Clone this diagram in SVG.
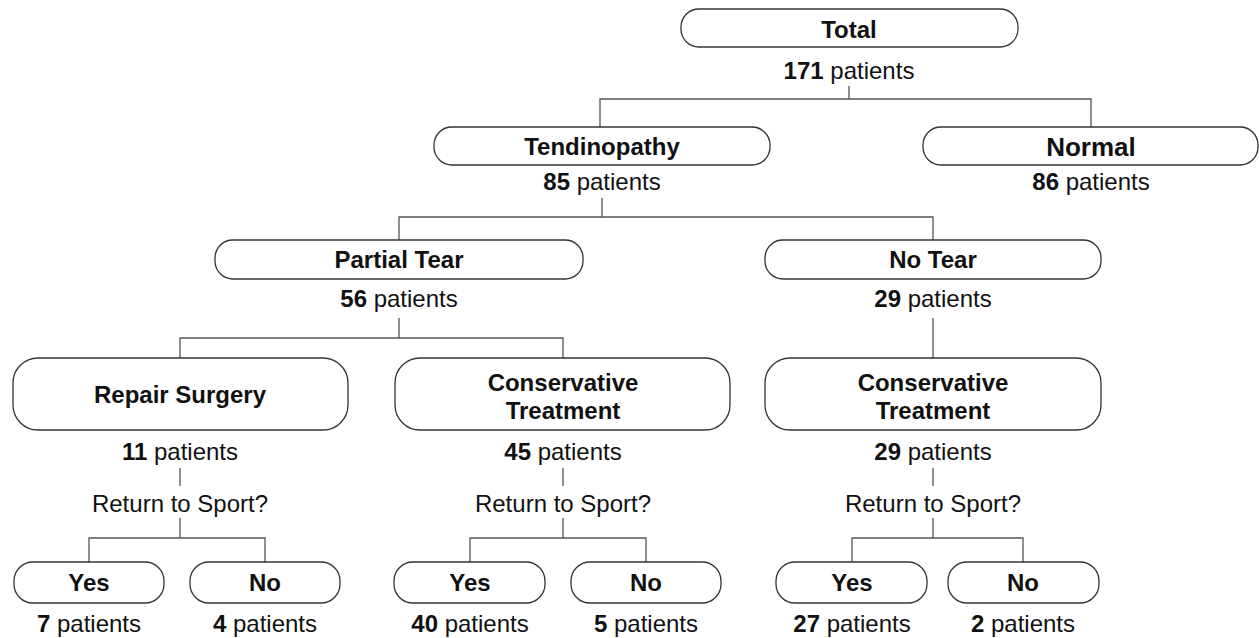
<svg xmlns="http://www.w3.org/2000/svg" width="1259" height="638" viewBox="0 0 1259 638">
  <style>
    .box { fill: #ffffff; stroke: #333333; stroke-width: 1.3; }
    .link { fill: none; stroke: #555555; stroke-width: 1.3; }
    text { font-family: "Liberation Sans", Arial, Helvetica, sans-serif; fill: #111111; text-anchor: middle; }
    .lbl { font-size: 24px; font-weight: bold; }
    .cnt { font-size: 24px; }
    .cnt tspan.n { font-weight: bold; }
    .big { font-size: 26px; font-weight: bold; }
  </style>
  <rect width="1259" height="638" fill="#ffffff"/>

  <!-- tree connectors -->
  <g id="connectors">
    <path class="link" d="M849 86 V99 M600 127 V99 H1091 V127"/>
    <path class="link" d="M602 198 V217 M399 240 V217 H933 V240"/>
    <path class="link" d="M399 318 V338 M180 358 V338 H563 V358"/>
    <path class="link" d="M933 318 V358"/>
    <path class="link" d="M180 468 V486 M180 518 V538 M89 562 V538 H265 V562"/>
    <path class="link" d="M563 468 V486 M563 518 V538 M470 562 V538 H646 V562"/>
    <path class="link" d="M933 468 V486 M933 518 V538 M852 562 V538 H1023 V562"/>
  </g>

  <g id="total">
    <rect class="box" x="681" y="9" width="337" height="38" rx="18"/>
    <text class="lbl" x="849" y="38">Total</text>
    <text class="cnt" x="849" y="79"><tspan class="n">171</tspan> patients</text>
  </g>

  <g id="tendinopathy">
    <rect class="box" x="434" y="127" width="336" height="38" rx="18"/>
    <text class="lbl" x="602" y="155">Tendinopathy</text>
    <text class="cnt" x="602" y="190"><tspan class="n">85</tspan> patients</text>
  </g>

  <g id="normal">
    <rect class="box" x="923" y="127" width="335" height="38" rx="18"/>
    <text class="big" x="1091" y="156">Normal</text>
    <text class="cnt" x="1091" y="190"><tspan class="n">86</tspan> patients</text>
  </g>

  <g id="partial-tear">
    <rect class="box" x="215" y="240" width="368" height="39" rx="18"/>
    <text class="lbl" x="399" y="268">Partial Tear</text>
    <text class="cnt" x="399" y="307"><tspan class="n">56</tspan> patients</text>
  </g>

  <g id="no-tear">
    <rect class="box" x="765" y="240" width="336" height="39" rx="18"/>
    <text class="lbl" x="933" y="268">No Tear</text>
    <text class="cnt" x="933" y="307"><tspan class="n">29</tspan> patients</text>
  </g>

  <g id="repair-surgery">
    <rect class="box" x="13" y="358" width="335" height="72" rx="25"/>
    <text class="lbl" x="180" y="403">Repair Surgery</text>
    <text class="cnt" x="180" y="460"><tspan class="n">11</tspan> patients</text>
    <text class="cnt" x="180" y="512">Return to Sport?</text>
  </g>

  <g id="conservative-tear">
    <rect class="box" x="395" y="358" width="335" height="72" rx="25"/>
    <text class="lbl" x="563" y="391">Conservative</text>
    <text class="lbl" x="563" y="419">Treatment</text>
    <text class="cnt" x="563" y="460"><tspan class="n">45</tspan> patients</text>
    <text class="cnt" x="563" y="512">Return to Sport?</text>
  </g>

  <g id="conservative-notear">
    <rect class="box" x="765" y="358" width="336" height="72" rx="25"/>
    <text class="lbl" x="933" y="391">Conservative</text>
    <text class="lbl" x="933" y="419">Treatment</text>
    <text class="cnt" x="933" y="460"><tspan class="n">29</tspan> patients</text>
    <text class="cnt" x="933" y="512">Return to Sport?</text>
  </g>

  <g id="repair-yes">
    <rect class="box" x="14" y="562" width="150" height="41" rx="19"/>
    <text class="lbl" x="89" y="591">Yes</text>
    <text class="cnt" x="89" y="632"><tspan class="n">7</tspan> patients</text>
  </g>
  <g id="repair-no">
    <rect class="box" x="190" y="562" width="150" height="41" rx="19"/>
    <text class="lbl" x="265" y="591">No</text>
    <text class="cnt" x="265" y="632"><tspan class="n">4</tspan> patients</text>
  </g>

  <g id="conservative-tear-yes">
    <rect class="box" x="394" y="562" width="151" height="41" rx="19"/>
    <text class="lbl" x="470" y="591">Yes</text>
    <text class="cnt" x="470" y="632"><tspan class="n">40</tspan> patients</text>
  </g>
  <g id="conservative-tear-no">
    <rect class="box" x="571" y="562" width="150" height="41" rx="19"/>
    <text class="lbl" x="646" y="591">No</text>
    <text class="cnt" x="646" y="632"><tspan class="n">5</tspan> patients</text>
  </g>

  <g id="conservative-notear-yes">
    <rect class="box" x="776" y="562" width="151" height="41" rx="19"/>
    <text class="lbl" x="852" y="591">Yes</text>
    <text class="cnt" x="852" y="632"><tspan class="n">27</tspan> patients</text>
  </g>
  <g id="conservative-notear-no">
    <rect class="box" x="948" y="562" width="151" height="41" rx="19"/>
    <text class="lbl" x="1023" y="591">No</text>
    <text class="cnt" x="1023" y="632"><tspan class="n">2</tspan> patients</text>
  </g>
</svg>
